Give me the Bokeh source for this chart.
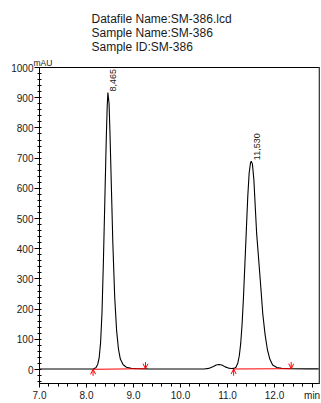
import math
from bokeh.plotting import figure
from bokeh.models import (Range1d, FixedTicker, Span, Arrow, OpenHead, Title,
                          ColumnDataSource)
from bokeh.embed import file_html
from bokeh.resources import INLINE
from bokeh.core.properties import value

# ---- data ----
time_min = [7.00, 7.50, 8.00, 8.10, 8.15, 8.20, 8.24, 8.27, 8.30, 8.33, 8.36,
            8.39, 8.42, 8.44, 8.455, 8.48, 8.50, 8.53, 8.56, 8.60, 8.64, 8.68,
            8.72, 8.78, 8.85, 8.95, 9.10, 9.30, 9.80, 10.30, 10.50, 10.60,
            10.70, 10.76, 10.82, 10.88, 10.95, 11.02, 11.08, 11.14, 11.18,
            11.22, 11.25, 11.28, 11.31, 11.34, 11.37, 11.40, 11.43, 11.46,
            11.49, 11.505, 11.53, 11.56, 11.59, 11.62, 11.66, 11.70, 11.75,
            11.80, 11.85, 11.90, 11.96, 12.05, 12.15, 12.35, 12.70, 12.96]
signal_mau = [2, 2, 2, 2, 2.5, 6, 18, 40, 90, 190, 360,
              560, 760, 870, 917, 880, 780, 600, 420, 240, 130, 68,
              35, 16, 8, 4, 3, 2.5, 2, 2, 2, 4,
              10, 15, 17, 15, 9, 5, 3.5, 4, 8,
              22, 45, 85, 150, 240, 350, 460, 570, 650,
              685, 690, 680, 630, 540, 450, 370, 290, 185,
              115, 65, 35, 15, 7, 4, 3, 2.5, 2.5]

peak_rt = [8.465, 11.530]
peak_height = [917, 690]
peak_labels = ["8,465", "11,530"]

base_start_t = [8.14, 11.13]
base_start_y = [1, 2]
base_end_t = [9.255, 12.355]
base_end_y = [3, 3]

x_ticks = [7.0, 8.0, 9.0, 10.0, 11.0, 12.0, 12.8]
x_tick_labels = ["7.0", "8.0", "9.0", "10.0", "11.0", "12.0", "min"]
y_ticks = [0, 100, 200, 300, 400, 500, 600, 700, 800, 900, 1000]
y_tick_labels = ["0", "100", "200", "300", "400", "500", "600", "700", "800", "900", "1000"]

title_lines = ["Datafile Name:SM-386.lcd", "Sample Name:SM-386", "Sample ID:SM-386"]
y_unit = "mAU"

FONT = "Liberation Sans"
TXT = "#1a1a1a"

p = figure(width=321, height=403, output_backend="svg", toolbar_location=None,
           x_range=Range1d(7.0, 12.957), y_range=Range1d(-46, 1000),
           min_border_left=39, min_border_right=2, min_border_top=67,
           min_border_bottom=16)
p.grid.visible = False
p.outline_line_color = "black"
p.outline_line_width = 1
p.background_fill_color = "white"
p.border_fill_color = "white"

# header as multi-line title
p.title.text = "\n".join(title_lines)
p.title.align = "left"
p.title.offset = 52
p.title.text_font = FONT
p.title.text_font_size = "12px"
p.title.text_font_style = "normal"
p.title.text_color = TXT
p.title.text_line_height = 1.0
p.title.standoff = 4

# y unit shown just above the top of the y axis
p.add_layout(Title(text=y_unit, align="left", offset=-6, standoff=0,
                   text_font=FONT, text_font_size="8.5px",
                   text_font_style="normal", text_color=TXT), "above")

# axes
xa = p.xaxis[0]
xa.ticker = FixedTicker(ticks=x_ticks,
                        minor_ticks=[round(7.0 + 0.2 * i, 1) for i in range(30)])
xa.major_label_overrides = {t: l for t, l in zip(x_ticks, x_tick_labels)}
xa.major_tick_out = 4
xa.major_tick_in = 0
xa.minor_tick_out = 3
xa.minor_tick_in = 0
xa.major_label_standoff = 2

ya = p.yaxis[0]
ya.ticker = FixedTicker(ticks=y_ticks, minor_ticks=list(range(-40, 1001, 20)))
ya.major_label_overrides = {t: l for t, l in zip(y_ticks, y_tick_labels)}
ya.major_tick_out = 5
ya.major_tick_in = 0
ya.minor_tick_out = 2
ya.minor_tick_in = 2
ya.major_label_standoff = 1

for ax in (xa, ya):
    ax.axis_line_color = "black"
    ax.major_tick_line_color = "black"
    ax.minor_tick_line_color = "black"
    ax.major_label_text_font = FONT
    ax.major_label_text_font_size = "10px"
    ax.major_label_text_color = TXT

# right gray border
p.add_layout(Span(location=12.957, dimension="height", line_color="#808080",
                  line_width=2))

# chromatogram
p.line(time_min, signal_mau, line_color="black", line_width=1.1)

# integration baselines
p.segment(x0=base_start_t, y0=base_start_y, x1=base_end_t, y1=base_end_y,
          line_color="#ff0000", line_width=1)
arr = ColumnDataSource(dict(
    xs=base_start_t + base_end_t,
    ys=[y - 22 for y in base_start_y] + [y + 22 for y in base_end_y],
    xe=base_start_t + base_end_t,
    ye=base_start_y + base_end_y))
p.add_layout(Arrow(source=arr, x_start="xs", y_start="ys", x_end="xe", y_end="ye",
                   line_color="#ff0000", line_width=1,
                   end=OpenHead(size=5, line_color="#ff0000", line_width=1)))

# peak labels
p.text(x=peak_rt, y=peak_height, text=peak_labels, angle=math.pi / 2,
       x_offset=5, y_offset=-1, text_align="left", text_baseline="middle",
       text_font=value(FONT), text_font_size="9px", text_color=TXT)

open("out.html", "w").write(file_html(p, INLINE))
